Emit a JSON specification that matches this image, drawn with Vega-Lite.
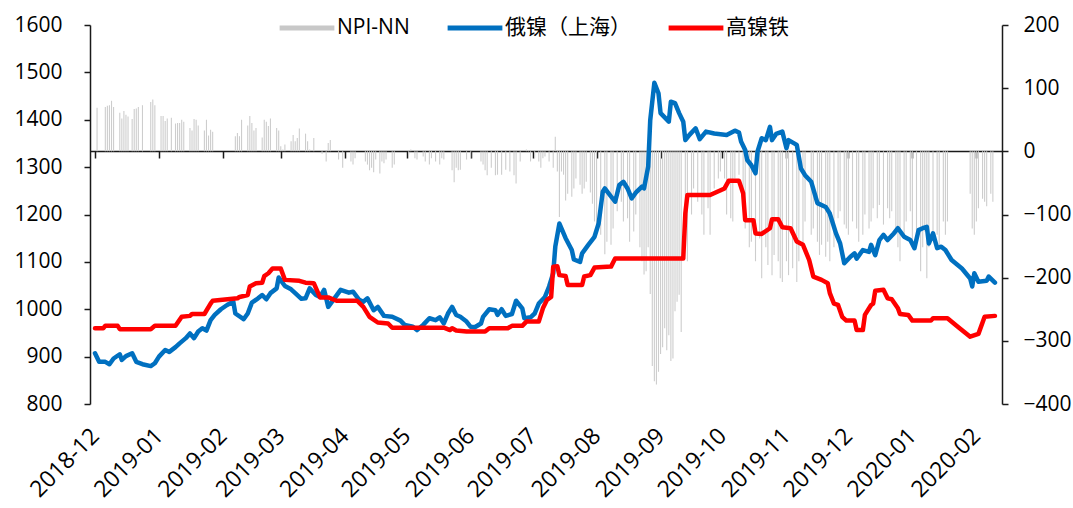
{
"$schema": "https://vega.github.io/schema/vega-lite/v6.json",
"width": 912, "height": 379, "autosize": "none",
"padding": {"left": 90, "top": 25, "right": 71, "bottom": 104},
"config": {"view": {"stroke": null}, "font": "Open Sans, Noto Sans CJK SC, sans-serif",
  "axis": {"labelColor": "#000", "domainColor": "#1a1a1a", "tickColor": "#1a1a1a", "domainWidth": 1.5, "tickWidth": 1.5, "grid": false, "title": null, "labelFontSize": 21, "zindex": 0}},
"datasets": {
"bars": [
{"d":"2018-12-02","v":69},{"d":"2018-12-06","v":70},{"d":"2018-12-07","v":72},{"d":"2018-12-08","v":73},{"d":"2018-12-09","v":80},{"d":"2018-12-10","v":70},{"d":"2018-12-13","v":61},{"d":"2018-12-14","v":52},{"d":"2018-12-15","v":64},{"d":"2018-12-16","v":58},{"d":"2018-12-17","v":55},{"d":"2018-12-19","v":51},{"d":"2018-12-20","v":67},{"d":"2018-12-21","v":68},{"d":"2018-12-22","v":70},{"d":"2018-12-24","v":73},{"d":"2018-12-28","v":78},{"d":"2018-12-29","v":82},{"d":"2018-12-30","v":73},
{"d":"2019-01-02","v":56},{"d":"2019-01-03","v":56},{"d":"2019-01-04","v":48},{"d":"2019-01-05","v":52},{"d":"2019-01-07","v":53},{"d":"2019-01-09","v":44},{"d":"2019-01-10","v":45},{"d":"2019-01-11","v":45},{"d":"2019-01-12","v":50},{"d":"2019-01-13","v":47},{"d":"2019-01-16","v":37},{"d":"2019-01-17","v":33},{"d":"2019-01-18","v":51},{"d":"2019-01-19","v":50},{"d":"2019-01-20","v":41},{"d":"2019-01-23","v":33},{"d":"2019-01-24","v":50},{"d":"2019-01-25","v":25},{"d":"2019-01-26","v":34},{"d":"2019-01-27","v":31},
{"d":"2019-02-07","v":24},{"d":"2019-02-08","v":29},{"d":"2019-02-09","v":24},{"d":"2019-02-10","v":50},{"d":"2019-02-13","v":41},{"d":"2019-02-14","v":56},{"d":"2019-02-15","v":45},{"d":"2019-02-16","v":33},{"d":"2019-02-17","v":37},{"d":"2019-02-20","v":22},{"d":"2019-02-21","v":50},{"d":"2019-02-22","v":47},{"d":"2019-02-23","v":40},{"d":"2019-02-24","v":52},{"d":"2019-02-27","v":37},{"d":"2019-02-28","v":33},
{"d":"2019-03-01","v":8},{"d":"2019-03-02","v":3},{"d":"2019-03-03","v":11},{"d":"2019-03-06","v":16},{"d":"2019-03-07","v":26},{"d":"2019-03-08","v":16},{"d":"2019-03-09","v":21},{"d":"2019-03-10","v":36},{"d":"2019-03-13","v":28},{"d":"2019-03-14","v":16},{"d":"2019-03-15","v":3},{"d":"2019-03-17","v":21},{"d":"2019-03-21","v":-4},{"d":"2019-03-23","v":-16},{"d":"2019-03-24","v":13},{"d":"2019-03-25","v":18},{"d":"2019-03-29","v":-13},{"d":"2019-03-31","v":-26},
{"d":"2019-04-04","v":-16},{"d":"2019-04-05","v":-21},{"d":"2019-04-06","v":-11},{"d":"2019-04-11","v":-16},{"d":"2019-04-12","v":-21},{"d":"2019-04-13","v":-30},{"d":"2019-04-14","v":-26},{"d":"2019-04-15","v":-33},{"d":"2019-04-16","v":-13},{"d":"2019-04-18","v":-35},{"d":"2019-04-19","v":-16},{"d":"2019-04-20","v":-19},{"d":"2019-04-21","v":-13},{"d":"2019-04-24","v":-26},{"d":"2019-04-25","v":-21},
{"d":"2019-05-02","v":-5},{"d":"2019-05-03","v":3},{"d":"2019-05-05","v":-11},{"d":"2019-05-06","v":-13},{"d":"2019-05-09","v":-8},{"d":"2019-05-10","v":-16},{"d":"2019-05-12","v":-21},{"d":"2019-05-13","v":-11},{"d":"2019-05-15","v":-16},{"d":"2019-05-17","v":-21},{"d":"2019-05-18","v":-11},{"d":"2019-05-19","v":-13},{"d":"2019-05-23","v":-30},{"d":"2019-05-24","v":-49},{"d":"2019-05-25","v":-26},{"d":"2019-05-26","v":-30},{"d":"2019-05-27","v":-29},{"d":"2019-05-30","v":-13},
{"d":"2019-06-01","v":-11},{"d":"2019-06-06","v":-16},{"d":"2019-06-07","v":-21},{"d":"2019-06-08","v":-30},{"d":"2019-06-09","v":-38},{"d":"2019-06-11","v":-26},{"d":"2019-06-13","v":-38},{"d":"2019-06-14","v":-37},{"d":"2019-06-16","v":-37},{"d":"2019-06-18","v":-29},{"d":"2019-06-20","v":-32},{"d":"2019-06-22","v":-38},{"d":"2019-06-23","v":-51},{"d":"2019-06-25","v":-16},{"d":"2019-06-28","v":3},{"d":"2019-06-29","v":2},{"d":"2019-06-30","v":-16},
{"d":"2019-07-02","v":-11},{"d":"2019-07-04","v":-16},{"d":"2019-07-05","v":-26},{"d":"2019-07-06","v":-11},{"d":"2019-07-07","v":-8},{"d":"2019-07-09","v":-16},{"d":"2019-07-11","v":-26},{"d":"2019-07-12","v":23},{"d":"2019-07-13","v":-32},{"d":"2019-07-14","v":-104},{"d":"2019-07-15","v":-32},{"d":"2019-07-16","v":-37},{"d":"2019-07-17","v":-78},{"d":"2019-07-18","v":-67},{"d":"2019-07-20","v":-72},{"d":"2019-07-21","v":-59},{"d":"2019-07-22","v":-43},{"d":"2019-07-24","v":-53},{"d":"2019-07-25","v":-67},{"d":"2019-07-26","v":-59},{"d":"2019-07-27","v":-48},{"d":"2019-07-29","v":-65},{"d":"2019-07-30","v":-83},{"d":"2019-07-31","v":-111},
{"d":"2019-08-01","v":-122},{"d":"2019-08-03","v":-132},{"d":"2019-08-05","v":-163},{"d":"2019-08-06","v":-143},{"d":"2019-08-08","v":-148},{"d":"2019-08-09","v":-122},{"d":"2019-08-11","v":-95},{"d":"2019-08-13","v":-80},{"d":"2019-08-14","v":-111},{"d":"2019-08-16","v":-106},{"d":"2019-08-17","v":-143},{"d":"2019-08-19","v":-127},{"d":"2019-08-20","v":-100},{"d":"2019-08-22","v":-152},{"d":"2019-08-23","v":-174},{"d":"2019-08-24","v":-195},{"d":"2019-08-25","v":-190},{"d":"2019-08-26","v":-152},{"d":"2019-08-27","v":-226},{"d":"2019-08-28","v":-340},{"d":"2019-08-29","v":-364},{"d":"2019-08-30","v":-369},{"d":"2019-08-31","v":-349},
{"d":"2019-09-01","v":-321},{"d":"2019-09-02","v":-310},{"d":"2019-09-03","v":-280},{"d":"2019-09-04","v":-315},{"d":"2019-09-05","v":-291},{"d":"2019-09-06","v":-332},{"d":"2019-09-07","v":-328},{"d":"2019-09-08","v":-253},{"d":"2019-09-09","v":-238},{"d":"2019-09-10","v":-227},{"d":"2019-09-11","v":-286},{"d":"2019-09-13","v":-152},{"d":"2019-09-14","v":-174},{"d":"2019-09-16","v":-100},{"d":"2019-09-17","v":-59},{"d":"2019-09-19","v":-80},{"d":"2019-09-21","v":-100},{"d":"2019-09-22","v":-132},{"d":"2019-09-24","v":-90},{"d":"2019-09-25","v":-132},{"d":"2019-09-27","v":-59},{"d":"2019-09-29","v":-43},{"d":"2019-09-30","v":-32},
{"d":"2019-10-02","v":-43},{"d":"2019-10-03","v":-100},{"d":"2019-10-05","v":-106},{"d":"2019-10-06","v":-111},{"d":"2019-10-07","v":-43},{"d":"2019-10-09","v":-37},{"d":"2019-10-11","v":-80},{"d":"2019-10-12","v":-122},{"d":"2019-10-14","v":-152},{"d":"2019-10-15","v":-143},{"d":"2019-10-17","v":-174},{"d":"2019-10-19","v":-138},{"d":"2019-10-20","v":-201},{"d":"2019-10-22","v":-152},{"d":"2019-10-23","v":-180},{"d":"2019-10-25","v":-196},{"d":"2019-10-26","v":-164},{"d":"2019-10-28","v":-174},{"d":"2019-10-29","v":-201},{"d":"2019-10-30","v":-207},
{"d":"2019-11-01","v":-174},{"d":"2019-11-02","v":-196},{"d":"2019-11-04","v":-185},{"d":"2019-11-06","v":-207},{"d":"2019-11-07","v":-174},{"d":"2019-11-09","v":-152},{"d":"2019-11-10","v":-111},{"d":"2019-11-13","v":-132},{"d":"2019-11-14","v":-122},{"d":"2019-11-16","v":-143},{"d":"2019-11-17","v":-164},{"d":"2019-11-18","v":-148},{"d":"2019-11-20","v":-167},{"d":"2019-11-21","v":-143},{"d":"2019-11-22","v":-174},{"d":"2019-11-24","v":-152},{"d":"2019-11-26","v":-106},{"d":"2019-11-27","v":-95},{"d":"2019-11-29","v":-116},{"d":"2019-11-30","v":-122},
{"d":"2019-12-01","v":-132},{"d":"2019-12-03","v":-111},{"d":"2019-12-05","v":-122},{"d":"2019-12-06","v":-143},{"d":"2019-12-08","v":-132},{"d":"2019-12-09","v":-100},{"d":"2019-12-11","v":-122},{"d":"2019-12-12","v":-111},{"d":"2019-12-13","v":-90},{"d":"2019-12-15","v":-106},{"d":"2019-12-16","v":-85},{"d":"2019-12-18","v":-116},{"d":"2019-12-20","v":-90},{"d":"2019-12-21","v":-106},{"d":"2019-12-22","v":-95},{"d":"2019-12-24","v":-132},{"d":"2019-12-25","v":-152},{"d":"2019-12-26","v":-174},{"d":"2019-12-28","v":-132},{"d":"2019-12-29","v":-111},{"d":"2019-12-31","v":-95},
{"d":"2020-01-01","v":-152},{"d":"2020-01-03","v":-143},{"d":"2020-01-05","v":-190},{"d":"2020-01-06","v":-152},{"d":"2020-01-07","v":-127},{"d":"2020-01-08","v":-201},{"d":"2020-01-09","v":-152},{"d":"2020-01-11","v":-127},{"d":"2020-01-13","v":-132},{"d":"2020-01-14","v":-152},{"d":"2020-01-16","v":-111},{"d":"2020-01-17","v":-132},{"d":"2020-01-18","v":-111},
{"d":"2020-01-29","v":-67},{"d":"2020-01-30","v":-122},{"d":"2020-01-31","v":-132},{"d":"2020-02-01","v":-111},{"d":"2020-02-02","v":-90},{"d":"2020-02-04","v":-75},{"d":"2020-02-05","v":-80},{"d":"2020-02-06","v":-87},{"d":"2020-02-08","v":-67},{"d":"2020-02-09","v":-80}
],
"lines": [
{"d":"2018-12-01","s":"俄镍（上海）","v":907},{"d":"2018-12-03","s":"俄镍（上海）","v":889},{"d":"2018-12-06","s":"俄镍（上海）","v":889},{"d":"2018-12-08","s":"俄镍（上海）","v":884},{"d":"2018-12-10","s":"俄镍（上海）","v":896},{"d":"2018-12-13","s":"俄镍（上海）","v":905},{"d":"2018-12-14","s":"俄镍（上海）","v":893},{"d":"2018-12-16","s":"俄镍（上海）","v":901},{"d":"2018-12-19","s":"俄镍（上海）","v":907},{"d":"2018-12-21","s":"俄镍（上海）","v":889},{"d":"2018-12-24","s":"俄镍（上海）","v":884},{"d":"2018-12-28","s":"俄镍（上海）","v":880},{"d":"2018-12-30","s":"俄镍（上海）","v":886},
{"d":"2019-01-01","s":"俄镍（上海）","v":900},{"d":"2019-01-04","s":"俄镍（上海）","v":914},{"d":"2019-01-06","s":"俄镍（上海）","v":910},{"d":"2019-01-09","s":"俄镍（上海）","v":920},{"d":"2019-01-11","s":"俄镍（上海）","v":928},{"d":"2019-01-14","s":"俄镍（上海）","v":939},{"d":"2019-01-16","s":"俄镍（上海）","v":949},{"d":"2019-01-18","s":"俄镍（上海）","v":939},{"d":"2019-01-20","s":"俄镍（上海）","v":953},{"d":"2019-01-22","s":"俄镍（上海）","v":960},{"d":"2019-01-24","s":"俄镍（上海）","v":955},{"d":"2019-01-26","s":"俄镍（上海）","v":977},{"d":"2019-01-28","s":"俄镍（上海）","v":988},{"d":"2019-01-31","s":"俄镍（上海）","v":1000},
{"d":"2019-02-03","s":"俄镍（上海）","v":1009},{"d":"2019-02-06","s":"俄镍（上海）","v":1016},{"d":"2019-02-07","s":"俄镍（上海）","v":991},{"d":"2019-02-11","s":"俄镍（上海）","v":979},{"d":"2019-02-13","s":"俄镍（上海）","v":991},{"d":"2019-02-15","s":"俄镍（上海）","v":1014},{"d":"2019-02-18","s":"俄镍（上海）","v":1023},{"d":"2019-02-20","s":"俄镍（上海）","v":1030},{"d":"2019-02-22","s":"俄镍（上海）","v":1021},{"d":"2019-02-24","s":"俄镍（上海）","v":1034},{"d":"2019-02-27","s":"俄镍（上海）","v":1044},{"d":"2019-02-28","s":"俄镍（上海）","v":1067},
{"d":"2019-03-03","s":"俄镍（上海）","v":1049},{"d":"2019-03-06","s":"俄镍（上海）","v":1042},{"d":"2019-03-08","s":"俄镍（上海）","v":1034},{"d":"2019-03-11","s":"俄镍（上海）","v":1022},{"d":"2019-03-13","s":"俄镍（上海）","v":1023},{"d":"2019-03-15","s":"俄镍（上海）","v":1044},{"d":"2019-03-18","s":"俄镍（上海）","v":1030},{"d":"2019-03-20","s":"俄镍（上海）","v":1026},{"d":"2019-03-22","s":"俄镍（上海）","v":1041},{"d":"2019-03-24","s":"俄镍（上海）","v":1005},{"d":"2019-03-27","s":"俄镍（上海）","v":1023},{"d":"2019-03-30","s":"俄镍（上海）","v":1041},
{"d":"2019-04-03","s":"俄镍（上海）","v":1035},{"d":"2019-04-05","s":"俄镍（上海）","v":1037},{"d":"2019-04-08","s":"俄镍（上海）","v":1020},{"d":"2019-04-10","s":"俄镍（上海）","v":1016},{"d":"2019-04-12","s":"俄镍（上海）","v":1023},{"d":"2019-04-15","s":"俄镍（上海）","v":998},{"d":"2019-04-17","s":"俄镍（上海）","v":1005},{"d":"2019-04-20","s":"俄镍（上海）","v":986},{"d":"2019-04-24","s":"俄镍（上海）","v":984},{"d":"2019-04-28","s":"俄镍（上海）","v":976},{"d":"2019-04-30","s":"俄镍（上海）","v":967},
{"d":"2019-05-04","s":"俄镍（上海）","v":963},{"d":"2019-05-06","s":"俄镍（上海）","v":956},{"d":"2019-05-09","s":"俄镍（上海）","v":967},{"d":"2019-05-12","s":"俄镍（上海）","v":981},{"d":"2019-05-15","s":"俄镍（上海）","v":977},{"d":"2019-05-17","s":"俄镍（上海）","v":983},{"d":"2019-05-19","s":"俄镍（上海）","v":970},{"d":"2019-05-21","s":"俄镍（上海）","v":991},{"d":"2019-05-23","s":"俄镍（上海）","v":1005},{"d":"2019-05-25","s":"俄镍（上海）","v":988},{"d":"2019-05-27","s":"俄镍（上海）","v":984},{"d":"2019-05-30","s":"俄镍（上海）","v":974},
{"d":"2019-06-01","s":"俄镍（上海）","v":963},{"d":"2019-06-03","s":"俄镍（上海）","v":962},{"d":"2019-06-06","s":"俄镍（上海）","v":970},{"d":"2019-06-07","s":"俄镍（上海）","v":984},{"d":"2019-06-10","s":"俄镍（上海）","v":1000},{"d":"2019-06-13","s":"俄镍（上海）","v":998},{"d":"2019-06-14","s":"俄镍（上海）","v":988},{"d":"2019-06-16","s":"俄镍（上海）","v":1000},{"d":"2019-06-18","s":"俄镍（上海）","v":986},{"d":"2019-06-21","s":"俄镍（上海）","v":990},{"d":"2019-06-23","s":"俄镍（上海）","v":1018},{"d":"2019-06-26","s":"俄镍（上海）","v":1002},{"d":"2019-06-27","s":"俄镍（上海）","v":981},{"d":"2019-06-30","s":"俄镍（上海）","v":983},
{"d":"2019-07-02","s":"俄镍（上海）","v":991},{"d":"2019-07-04","s":"俄镍（上海）","v":1012},{"d":"2019-07-07","s":"俄镍（上海）","v":1026},{"d":"2019-07-09","s":"俄镍（上海）","v":1048},{"d":"2019-07-11","s":"俄镍（上海）","v":1076},{"d":"2019-07-12","s":"俄镍（上海）","v":1132},{"d":"2019-07-14","s":"俄镍（上海）","v":1181},{"d":"2019-07-17","s":"俄镍（上海）","v":1150},{"d":"2019-07-20","s":"俄镍（上海）","v":1125},{"d":"2019-07-21","s":"俄镍（上海）","v":1105},{"d":"2019-07-24","s":"俄镍（上海）","v":1100},{"d":"2019-07-25","s":"俄镍（上海）","v":1118},{"d":"2019-07-28","s":"俄镍（上海）","v":1136},{"d":"2019-07-31","s":"俄镍（上海）","v":1153},
{"d":"2019-08-02","s":"俄镍（上海）","v":1181},{"d":"2019-08-04","s":"俄镍（上海）","v":1248},{"d":"2019-08-05","s":"俄镍（上海）","v":1255},{"d":"2019-08-08","s":"俄镍（上海）","v":1238},{"d":"2019-08-10","s":"俄镍（上海）","v":1227},{"d":"2019-08-12","s":"俄镍（上海）","v":1262},{"d":"2019-08-14","s":"俄镍（上海）","v":1269},{"d":"2019-08-16","s":"俄镍（上海）","v":1255},{"d":"2019-08-18","s":"俄镍（上海）","v":1234},{"d":"2019-08-20","s":"俄镍（上海）","v":1246},{"d":"2019-08-23","s":"俄镍（上海）","v":1259},{"d":"2019-08-24","s":"俄镍（上海）","v":1255},{"d":"2019-08-26","s":"俄镍（上海）","v":1301},{"d":"2019-08-27","s":"俄镍（上海）","v":1399},{"d":"2019-08-29","s":"俄镍（上海）","v":1478},{"d":"2019-08-31","s":"俄镍（上海）","v":1456},
{"d":"2019-09-01","s":"俄镍（上海）","v":1414},{"d":"2019-09-05","s":"俄镍（上海）","v":1396},{"d":"2019-09-06","s":"俄镍（上海）","v":1438},{"d":"2019-09-08","s":"俄镍（上海）","v":1435},{"d":"2019-09-10","s":"俄镍（上海）","v":1414},{"d":"2019-09-12","s":"俄镍（上海）","v":1396},{"d":"2019-09-13","s":"俄镍（上海）","v":1357},{"d":"2019-09-15","s":"俄镍（上海）","v":1368},{"d":"2019-09-18","s":"俄镍（上海）","v":1382},{"d":"2019-09-20","s":"俄镍（上海）","v":1359},{"d":"2019-09-23","s":"俄镍（上海）","v":1375},{"d":"2019-09-27","s":"俄镍（上海）","v":1371},
{"d":"2019-10-03","s":"俄镍（上海）","v":1368},{"d":"2019-10-07","s":"俄镍（上海）","v":1377},{"d":"2019-10-09","s":"俄镍（上海）","v":1373},{"d":"2019-10-10","s":"俄镍（上海）","v":1354},{"d":"2019-10-12","s":"俄镍（上海）","v":1336},{"d":"2019-10-13","s":"俄镍（上海）","v":1315},{"d":"2019-10-15","s":"俄镍（上海）","v":1304},{"d":"2019-10-17","s":"俄镍（上海）","v":1287},{"d":"2019-10-18","s":"俄镍（上海）","v":1333},{"d":"2019-10-20","s":"俄镍（上海）","v":1361},{"d":"2019-10-22","s":"俄镍（上海）","v":1357},{"d":"2019-10-24","s":"俄镍（上海）","v":1385},{"d":"2019-10-25","s":"俄镍（上海）","v":1357},{"d":"2019-10-27","s":"俄镍（上海）","v":1370},{"d":"2019-10-30","s":"俄镍（上海）","v":1375},
{"d":"2019-11-01","s":"俄镍（上海）","v":1340},{"d":"2019-11-02","s":"俄镍（上海）","v":1357},{"d":"2019-11-06","s":"俄镍（上海）","v":1347},{"d":"2019-11-08","s":"俄镍（上海）","v":1297},{"d":"2019-11-10","s":"俄镍（上海）","v":1283},{"d":"2019-11-13","s":"俄镍（上海）","v":1269},{"d":"2019-11-16","s":"俄镍（上海）","v":1224},{"d":"2019-11-20","s":"俄镍（上海）","v":1216},{"d":"2019-11-22","s":"俄镍（上海）","v":1202},{"d":"2019-11-25","s":"俄镍（上海）","v":1160},{"d":"2019-11-27","s":"俄镍（上海）","v":1139},{"d":"2019-11-29","s":"俄镍（上海）","v":1097},
{"d":"2019-12-02","s":"俄镍（上海）","v":1111},{"d":"2019-12-04","s":"俄镍（上海）","v":1118},{"d":"2019-12-05","s":"俄镍（上海）","v":1107},{"d":"2019-12-08","s":"俄镍（上海）","v":1125},{"d":"2019-12-11","s":"俄镍（上海）","v":1121},{"d":"2019-12-12","s":"俄镍（上海）","v":1136},{"d":"2019-12-14","s":"俄镍（上海）","v":1114},{"d":"2019-12-16","s":"俄镍（上海）","v":1146},{"d":"2019-12-18","s":"俄镍（上海）","v":1157},{"d":"2019-12-20","s":"俄镍（上海）","v":1146},{"d":"2019-12-23","s":"俄镍（上海）","v":1160},{"d":"2019-12-25","s":"俄镍（上海）","v":1171},{"d":"2019-12-28","s":"俄镍（上海）","v":1153},{"d":"2019-12-31","s":"俄镍（上海）","v":1146},
{"d":"2020-01-02","s":"俄镍（上海）","v":1129},{"d":"2020-01-04","s":"俄镍（上海）","v":1167},{"d":"2020-01-06","s":"俄镍（上海）","v":1171},{"d":"2020-01-08","s":"俄镍（上海）","v":1174},{"d":"2020-01-09","s":"俄镍（上海）","v":1139},{"d":"2020-01-11","s":"俄镍（上海）","v":1160},{"d":"2020-01-13","s":"俄镍（上海）","v":1129},{"d":"2020-01-15","s":"俄镍（上海）","v":1132},{"d":"2020-01-17","s":"俄镍（上海）","v":1125},{"d":"2020-01-20","s":"俄镍（上海）","v":1104},{"d":"2020-01-25","s":"俄镍（上海）","v":1086},{"d":"2020-01-29","s":"俄镍（上海）","v":1065},{"d":"2020-01-30","s":"俄镍（上海）","v":1048},{"d":"2020-01-31","s":"俄镍（上海）","v":1076},{"d":"2020-02-02","s":"俄镍（上海）","v":1058},{"d":"2020-02-06","s":"俄镍（上海）","v":1060},{"d":"2020-02-07","s":"俄镍（上海）","v":1069},{"d":"2020-02-10","s":"俄镍（上海）","v":1056},
{"d":"2018-12-01","s":"高镍铁","v":960},{"d":"2018-12-05","s":"高镍铁","v":960},{"d":"2018-12-06","s":"高镍铁","v":965},{"d":"2018-12-12","s":"高镍铁","v":965},{"d":"2018-12-13","s":"高镍铁","v":958},{"d":"2018-12-28","s":"高镍铁","v":958},{"d":"2018-12-30","s":"高镍铁","v":965},
{"d":"2019-01-09","s":"高镍铁","v":965},{"d":"2019-01-12","s":"高镍铁","v":984},{"d":"2019-01-16","s":"高镍铁","v":986},{"d":"2019-01-17","s":"高镍铁","v":990},{"d":"2019-01-23","s":"高镍铁","v":990},{"d":"2019-01-26","s":"高镍铁","v":1012},{"d":"2019-01-27","s":"高镍铁","v":1018},
{"d":"2019-02-08","s":"高镍铁","v":1023},{"d":"2019-02-09","s":"高镍铁","v":1026},{"d":"2019-02-13","s":"高镍铁","v":1030},{"d":"2019-02-14","s":"高镍铁","v":1048},{"d":"2019-02-17","s":"高镍铁","v":1055},{"d":"2019-02-20","s":"高镍铁","v":1056},{"d":"2019-02-21","s":"高镍铁","v":1070},{"d":"2019-02-23","s":"高镍铁","v":1076},{"d":"2019-02-25","s":"高镍铁","v":1086},
{"d":"2019-03-01","s":"高镍铁","v":1086},{"d":"2019-03-03","s":"高镍铁","v":1062},{"d":"2019-03-10","s":"高镍铁","v":1060},{"d":"2019-03-13","s":"高镍铁","v":1056},{"d":"2019-03-17","s":"高镍铁","v":1055},{"d":"2019-03-20","s":"高镍铁","v":1025},{"d":"2019-03-24","s":"高镍铁","v":1025},{"d":"2019-03-28","s":"高镍铁","v":1018},
{"d":"2019-04-07","s":"高镍铁","v":1018},{"d":"2019-04-10","s":"高镍铁","v":1005},{"d":"2019-04-13","s":"高镍铁","v":984},{"d":"2019-04-17","s":"高镍铁","v":972},{"d":"2019-04-22","s":"高镍铁","v":970},{"d":"2019-04-24","s":"高镍铁","v":961},
{"d":"2019-05-19","s":"高镍铁","v":961},{"d":"2019-05-22","s":"高镍铁","v":956},{"d":"2019-05-23","s":"高镍铁","v":960},{"d":"2019-05-25","s":"高镍铁","v":955},{"d":"2019-05-30","s":"高镍铁","v":953},
{"d":"2019-06-08","s":"高镍铁","v":953},{"d":"2019-06-10","s":"高镍铁","v":960},{"d":"2019-06-19","s":"高镍铁","v":960},{"d":"2019-06-21","s":"高镍铁","v":965},{"d":"2019-06-26","s":"高镍铁","v":965},{"d":"2019-06-28","s":"高镍铁","v":974},
{"d":"2019-07-04","s":"高镍铁","v":974},{"d":"2019-07-06","s":"高镍铁","v":1002},{"d":"2019-07-08","s":"高镍铁","v":1020},{"d":"2019-07-10","s":"高镍铁","v":1026},{"d":"2019-07-11","s":"高镍铁","v":1090},{"d":"2019-07-13","s":"高镍铁","v":1091},{"d":"2019-07-14","s":"高镍铁","v":1072},{"d":"2019-07-17","s":"高镍铁","v":1070},{"d":"2019-07-18","s":"高镍铁","v":1051},{"d":"2019-07-25","s":"高镍铁","v":1051},{"d":"2019-07-26","s":"高镍铁","v":1069},{"d":"2019-07-29","s":"高镍铁","v":1072},{"d":"2019-07-31","s":"高镍铁","v":1088},
{"d":"2019-08-08","s":"高镍铁","v":1090},{"d":"2019-08-10","s":"高镍铁","v":1107},{"d":"2019-09-12","s":"高镍铁","v":1107},{"d":"2019-09-13","s":"高镍铁","v":1202},{"d":"2019-09-14","s":"高镍铁","v":1241},{"d":"2019-09-25","s":"高镍铁","v":1241},
{"d":"2019-10-02","s":"高镍铁","v":1255},{"d":"2019-10-04","s":"高镍铁","v":1271},{"d":"2019-10-09","s":"高镍铁","v":1271},{"d":"2019-10-11","s":"高镍铁","v":1245},{"d":"2019-10-12","s":"高镍铁","v":1188},{"d":"2019-10-16","s":"高镍铁","v":1188},{"d":"2019-10-17","s":"高镍铁","v":1160},{"d":"2019-10-20","s":"高镍铁","v":1159},{"d":"2019-10-24","s":"高镍铁","v":1171},{"d":"2019-10-25","s":"高镍铁","v":1190},{"d":"2019-10-28","s":"高镍铁","v":1190},{"d":"2019-10-30","s":"高镍铁","v":1173},
{"d":"2019-11-03","s":"高镍铁","v":1171},{"d":"2019-11-06","s":"高镍铁","v":1143},{"d":"2019-11-09","s":"高镍铁","v":1136},{"d":"2019-11-12","s":"高镍铁","v":1104},{"d":"2019-11-14","s":"高镍铁","v":1069},{"d":"2019-11-18","s":"高镍铁","v":1062},{"d":"2019-11-21","s":"高镍铁","v":1055},{"d":"2019-11-22","s":"高镍铁","v":1034},{"d":"2019-11-24","s":"高镍铁","v":1012},{"d":"2019-11-26","s":"高镍铁","v":1009},{"d":"2019-11-28","s":"高镍铁","v":984},{"d":"2019-11-30","s":"高镍铁","v":976},
{"d":"2019-12-04","s":"高镍铁","v":976},{"d":"2019-12-05","s":"高镍铁","v":956},{"d":"2019-12-08","s":"高镍铁","v":956},{"d":"2019-12-09","s":"高镍铁","v":988},{"d":"2019-12-12","s":"高镍铁","v":1009},{"d":"2019-12-13","s":"高镍铁","v":1012},{"d":"2019-12-14","s":"高镍铁","v":1039},{"d":"2019-12-18","s":"高镍铁","v":1041},{"d":"2019-12-20","s":"高镍铁","v":1023},{"d":"2019-12-22","s":"高镍铁","v":1021},{"d":"2019-12-25","s":"高镍铁","v":1002},{"d":"2019-12-26","s":"高镍铁","v":990},{"d":"2019-12-30","s":"高镍铁","v":988},
{"d":"2020-01-01","s":"高镍铁","v":976},{"d":"2020-01-10","s":"高镍铁","v":976},{"d":"2020-01-11","s":"高镍铁","v":981},{"d":"2020-01-18","s":"高镍铁","v":981},{"d":"2020-01-23","s":"高镍铁","v":963},{"d":"2020-01-29","s":"高镍铁","v":942},{"d":"2020-02-02","s":"高镍铁","v":948},{"d":"2020-02-05","s":"高镍铁","v":984},{"d":"2020-02-10","s":"高镍铁","v":986}
]
},
"layer": [
{"data": {"name": "bars"},
 "mark": {"type": "bar", "width": 1.1, "color": "#cdcdcd"},
 "encoding": {
  "x": {"field": "d", "type": "temporal",
    "scale": {"type": "utc", "domain": [{"year": 2018, "month": 12, "date": 1, "utc": true}, {"year": 2020, "month": 2, "date": 11, "utc": true}]},
    "axis": {"orient": "bottom", "offset": -253, "labels": false, "tickSize": 7, "tickCount": "month"}},
  "y": {"field": "v", "type": "quantitative", "scale": {"domain": [-400, 200], "nice": false, "zero": false},
    "axis": {"orient": "right", "values": [-400, -300, -200, -100, 0, 100, 200], "format": "d", "tickSize": 6, "labelPadding": 15, "labelAlign": "left"}}
 }},
{"data": {"name": "lines"},
 "mark": {"type": "line", "strokeWidth": 4.5, "strokeJoin": "round", "strokeCap": "round"},
 "encoding": {
  "x": {"field": "d", "type": "temporal",
    "axis": {"orient": "bottom", "domain": false, "ticks": false, "tickCount": "month", "format": "%Y-%m", "labelFontSize": 23, "labelAngle": -45, "labelAlign": "right", "labelBaseline": "middle", "labelPadding": 28, "labelOverlap": false, "labelBound": false, "labelFlush": false}},
  "y": {"field": "v", "type": "quantitative", "scale": {"domain": [800, 1600], "nice": false, "zero": false},
    "axis": {"orient": "left", "values": [800, 900, 1000, 1100, 1200, 1300, 1400, 1500, 1600], "format": "d", "tickSize": 6, "labelPadding": 22}},
  "color": {"field": "s", "type": "nominal",
    "scale": {"domain": ["NPI-NN", "俄镍（上海）", "高镍铁"], "range": ["#c8c8c8", "#0070c0", "#ff0000"]},
    "legend": {"title": null, "orient": "none", "legendX": 187, "legendY": -27, "direction": "horizontal",
      "symbolType": "stroke", "symbolSize": 3000, "symbolStrokeWidth": 5, "labelFontSize": 21, "labelColor": "#000",
      "labelOffset": 0, "columnPadding": 27, "labelLimit": 300,
      "encode": {"symbols": {"update": {"stroke": {"signal": "scale('color', datum.value)"}}}}}}
 }}
],
"resolve": {"scale": {"y": "independent"}, "axis": {"x": "independent"}}
}
